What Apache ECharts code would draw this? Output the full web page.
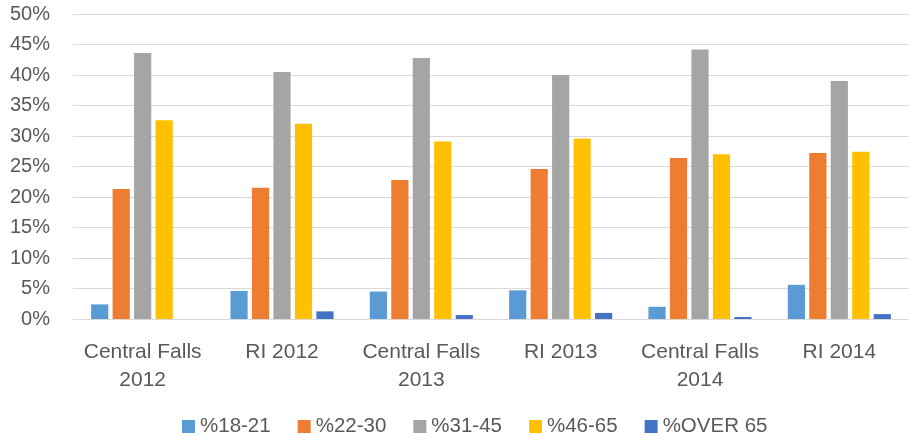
<!DOCTYPE html>
<html>
<head>
<meta charset="utf-8">
<script src="https://cdn.jsdelivr.net/npm/echarts@6/dist/echarts.min.js"></script>
<style>
  html, body { margin: 0; padding: 0; background: #fff; }
  #main { width: 909px; height: 435px; }
</style>
</head>
<body>
<div id="main"></div>
<script>
// categories and values (percent)
var categories = ['Central Falls\n2012', 'RI 2012', 'Central Falls\n2013', 'RI 2013', 'Central Falls\n2014', 'RI 2014'];
var age18to21 = [2.4, 4.6, 4.5, 4.7, 2.0, 5.6];
var age22to30 = [21.3, 21.5, 22.8, 24.6, 26.4, 27.2];
var age31to45 = [43.6, 40.5, 42.8, 40.0, 44.2, 39.0];
var age46to65 = [32.6, 32.0, 29.1, 29.6, 27.0, 27.4];
var ageOver65 = [0, 1.25, 0.65, 1.0, 0.33, 0.8];
var seriesNames = ['%18-21', '%22-30', '%31-45', '%46-65', '%OVER 65'];
var colors = ['#5B9BD5', '#ED7D31', '#A5A5A5', '#FFC000', '#4472C4'];

var font = 'Liberation Sans, Arial, sans-serif';
var textColor = '#595959';

var myChart = echarts.init(document.getElementById('main'));

var seriesData = [age18to21, age22to30, age31to45, age46to65, ageOver65];
var series = seriesNames.map(function (name, i) {
  return {
    name: name,
    type: 'bar',
    data: seriesData[i],
    barGap: '25%',
    barCategoryGap: '26%',
    itemStyle: { color: colors[i] }
  };
});

var option = {
  animation: false,
  color: colors,
  grid: { left: 73, top: 14, bottom: 116, width: 845 },
  legend: {
    data: seriesNames,
    top: 411,
    left: 177,
    icon: 'rect',
    itemWidth: 13,
    itemHeight: 13,
    itemGap: 27,
    textStyle: { color: textColor, fontSize: 20.5, fontFamily: font }
  },
  xAxis: {
    type: 'category',
    data: categories,
    axisTick: { show: false },
    axisLine: { lineStyle: { color: '#D9D9D9', width: 1 } },
    axisLabel: {
      interval: 0,
      color: textColor,
      fontSize: 21,
      fontFamily: font,
      lineHeight: 28,
      margin: 19
    }
  },
  yAxis: {
    type: 'value',
    min: 0,
    max: 50,
    interval: 5,
    axisLine: { show: false },
    axisTick: { show: false },
    axisLabel: {
      formatter: '{value}%',
      color: textColor,
      fontSize: 20,
      fontFamily: font,
      margin: 23
    },
    splitLine: { lineStyle: { color: '#D9D9D9', width: 1 } }
  },
  series: series
};

myChart.setOption(option);
</script>
</body>
</html>
